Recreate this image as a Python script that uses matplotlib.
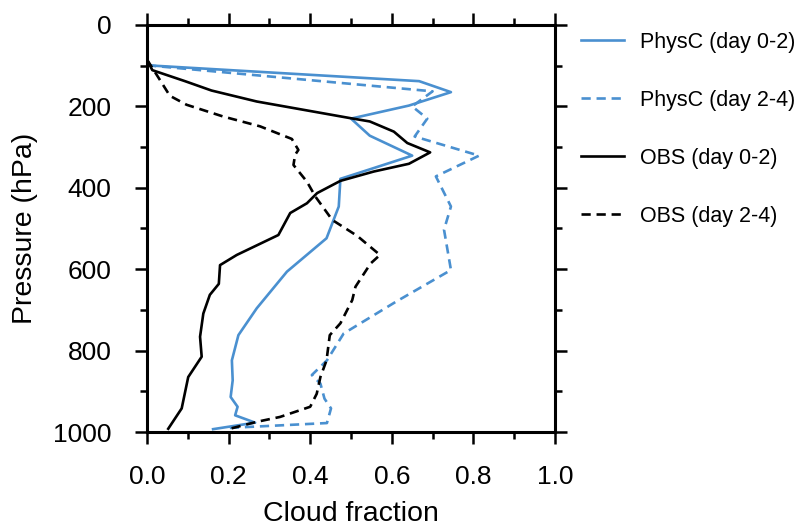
import matplotlib
matplotlib.use('Agg')
import matplotlib.pyplot as plt
from matplotlib.ticker import MultipleLocator

plt.rcParams['font.family'] = ['Liberation Sans', 'DejaVu Sans']

# PhysC day 0-2
p_phys02 = [99, 138, 165, 198, 230, 272, 321, 378, 446, 524, 606, 696, 762, 824, 873, 914, 938, 959, 977, 993]
cf_phys02 = [0.0, 0.667, 0.745, 0.642, 0.50, 0.546, 0.65, 0.474, 0.47, 0.44, 0.343, 0.269, 0.224, 0.208, 0.21, 0.205, 0.222, 0.216, 0.265, 0.162]

# PhysC day 2-4
p_phys24 = [99, 163, 200, 230, 274, 321, 372, 446, 503, 602, 680, 758, 824, 860, 881, 918, 942, 978, 990]
cf_phys24 = [0.0, 0.70, 0.65, 0.687, 0.656, 0.814, 0.708, 0.745, 0.728, 0.745, 0.61, 0.482, 0.441, 0.404, 0.425, 0.435, 0.451, 0.441, 0.20]

# OBS day 0-2
p_obs02 = [85, 111, 138, 161, 188, 229, 237, 262, 290, 313, 341, 360, 383, 413, 438, 462, 516, 565, 590, 636, 663, 709, 766, 815, 865, 942, 992]
cf_obs02 = [0.0, 0.013, 0.093, 0.158, 0.269, 0.499, 0.546, 0.605, 0.638, 0.694, 0.642, 0.556, 0.474, 0.417, 0.392, 0.351, 0.322, 0.22, 0.179, 0.176, 0.154, 0.138, 0.13, 0.134, 0.101, 0.085, 0.052]

# OBS day 2-4
p_obs24 = [85, 134, 174, 196, 225, 249, 280, 307, 319, 344, 385, 422, 479, 518, 565, 586, 643, 676, 733, 762, 824, 865, 906, 938, 963, 975, 992]
cf_obs24 = [0.0, 0.031, 0.056, 0.097, 0.187, 0.277, 0.355, 0.371, 0.363, 0.359, 0.392, 0.413, 0.454, 0.515, 0.571, 0.548, 0.511, 0.503, 0.474, 0.448, 0.44, 0.425, 0.416, 0.40, 0.326, 0.269, 0.203]

xticks = [0.0, 0.2, 0.4, 0.6, 0.8, 1.0]
xticklabels = ['0.0', '0.2', '0.4', '0.6', '0.8', '1.0']

blue = '#4a90d0'

fig = plt.figure(figsize=(7.99, 5.26), dpi=100)
ax = fig.add_axes([0.184, 0.1787, 0.5106, 0.7738])

lw = 1.9
ax.plot(cf_phys02, p_phys02, color=blue, lw=lw, label='PhysC (day 0-2)')
ax.plot(cf_phys24, p_phys24, color=blue, lw=lw, dashes=(3.5, 2.2), label='PhysC (day 2-4)')
ax.plot(cf_obs02, p_obs02, color='black', lw=lw, label='OBS (day 0-2)')
ax.plot(cf_obs24, p_obs24, color='black', lw=lw, dashes=(3.5, 2.2), label='OBS (day 2-4)')

ax.set_xlim(0, 1)
ax.set_ylim(1000, 0)
ax.set_xticks(xticks)
ax.set_xticklabels(xticklabels)
ax.xaxis.set_minor_locator(MultipleLocator(0.1))
ax.yaxis.set_major_locator(MultipleLocator(200))
ax.yaxis.set_minor_locator(MultipleLocator(100))

for s in ax.spines.values():
    s.set_linewidth(2.2)
ax.tick_params(which='both', direction='out', top=True, right=True, width=1.8, labelsize=19)
ax.tick_params(which='major', length=8.5)
ax.tick_params(which='minor', length=5)
ax.tick_params(axis='x', which='major', pad=15)
ax.tick_params(axis='y', which='major', pad=17)

ax.set_xlabel('Cloud fraction', fontsize=20.5, labelpad=9)
ax.set_ylabel('Pressure (hPa)', fontsize=20.5, labelpad=11)

fig.legend(loc='upper left', bbox_to_anchor=(0.727, 0.94), frameon=False,
           fontsize=15.5, labelspacing=1.72, handlelength=2.0, handletextpad=0.75,
           borderpad=0, borderaxespad=0)

fig.savefig('out.png', dpi=100)
